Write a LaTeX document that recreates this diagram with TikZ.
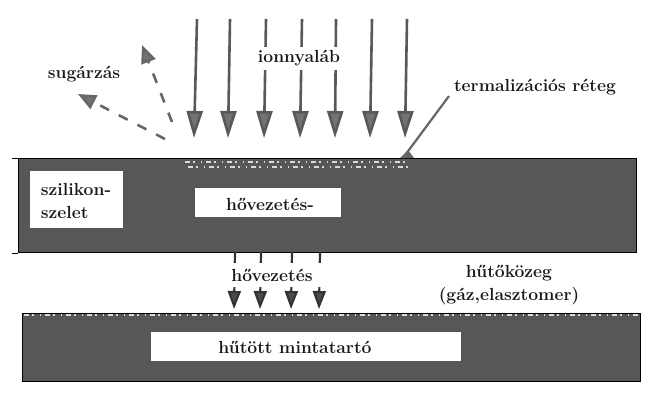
\documentclass[tikz,border=0pt]{standalone}
\usepackage{tikz}
\usetikzlibrary{calc,positioning,arrows.meta}
\tikzset{
  beam/.style  = {-{Triangle[length=27pt,width=16pt,fill=black!55]}, line width=2.6pt, draw=black!65},
  rad/.style   = {-{Triangle[length=18pt,width=15pt,fill=black!55]}, line width=2.6pt, draw=black!60, dash pattern=on 10pt off 11pt},
  cond/.style  = {-{Triangle[length=18pt,width=13pt,fill=black!70]}, line width=2.2pt, draw=black!80},
  block/.style = {draw=black, line width=1pt, fill=black!66, anchor=north west, inner sep=0pt},
  label/.style = {font=\fontsize{17.5}{23}\selectfont\bfseries, text=black!90, align=center, inner sep=0pt},
  plate/.style = {fill=white, anchor=north west, inner sep=0pt},
  speck/.style = {draw=black!15, line width=1.4pt, dash pattern=on 5pt off 3pt on 2pt off 6pt on 1pt off 4pt},
}
\begin{document}
\begin{tikzpicture}[x=1pt,y=-1pt]
  \useasboundingbox (0,0) rectangle (660,407);
  % wafer and holder
  \node[block, minimum width=618pt, minimum height=94pt] (wafer) at (18,158) {};
  \node[block, minimum width=618pt, minimum height=68pt] (holder) at (22,313) {};
  \draw[line width=1pt] (wafer.north west) -- ++(-6,0);
  \draw[line width=1pt] (wafer.south west) -- ++(-6,0);
  \node[plate, minimum width=93pt, minimum height=57pt] (sibox) at (30,171) {};
  \node[plate, minimum width=146pt, minimum height=29pt] (hotbox) at (195,188) {};
  \node[plate, minimum width=310pt, minimum height=29pt] (coolbox) at (151,332) {};
  \draw[speck] (185,162) -- (410,162);
  \draw[speck] (188,167) -- (410,167);
  \draw[speck] (24,315) -- (638,315);
  % ion beam
  \foreach \name/\xa/\xb in {a/197/194,b/230/228,c/266/264,d/302/300,e/336/335,f/372/370,g/407/405} {
    \coordinate (top\name) at (\xa,19);
    \coordinate (tip\name) at (\xb,138);
    \draw[beam] (top\name) -- (tip\name);
  }
  \node[label, fill=white, minimum width=84pt, minimum height=23pt] (ion) at (299,58) {ionnyaláb};
  % radiation
  \coordinate (rada) at (165,139);
  \coordinate (radb) at (172,122);
  \coordinate (radc) at (78,94);
  \coordinate (radd) at (142,45);
  \draw[rad] (rada) -- (radc);
  \draw[rad] (radb) -- (radd);
  \node[label] (sug) at (84,74) {sugárzás};
  % thermal layer
  \node[label] (therm) at (535,87) {termalizációs réteg};
  \coordinate (lead) at (403,158);
  \draw[black!60, line width=2.2pt] (449,96) -- (lead);
  \fill[black!60] (lead) ++(-3,0) -- ++(8,-8) -- ++(6,8) -- cycle;
  % conduction
  \foreach \name/\xa/\xb in {a/235/234,b/261/260,c/292/291,d/320/319} {
    \coordinate (up\name) at (\xa,252);
    \coordinate (lo\name) at (\xb,309);
    \draw[cond] (up\name) -- (lo\name);
  }
  \node[label, fill=white, minimum width=104pt, minimum height=24pt] (cond) at (272,275) {hővezetés};
  \node[label] at (270,204) {hővezetés-};
  \node[label, align=left] (si) at (76,201) {szilikon-\\szelet};
  \node[label] (medium) at (509,285) {hűtőközeg\\(gáz,elasztomer)};
  \node[label] (holdertext) at (295,347) {hűtött mintatartó};
\end{tikzpicture}
\end{document}
